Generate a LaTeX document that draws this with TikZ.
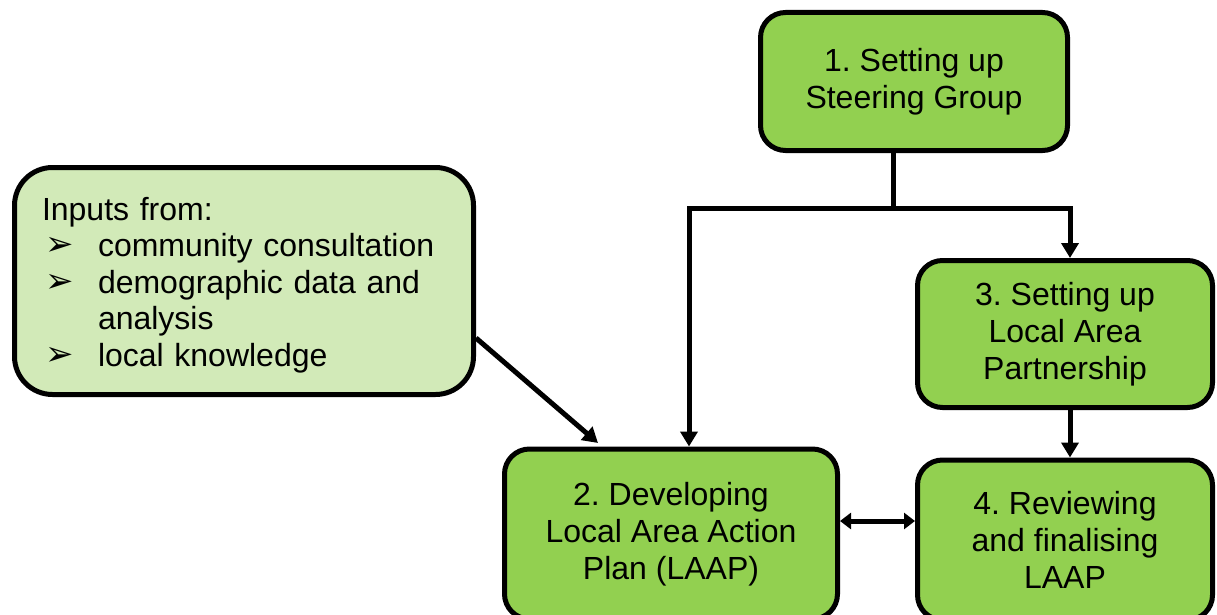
\documentclass[tikz,border=0pt]{standalone}
\usepackage{fontspec}
\setmainfont{Liberation Sans}
\newfontfamily\dingfont{DejaVu Sans}
\usetikzlibrary{arrows.meta}
\definecolor{boxgreen}{HTML}{92D050}
\definecolor{lightgreen}{HTML}{D2EAB8}
\tikzset{
  stepbox/.style={draw=black, line width=5pt, fill=boxgreen, rounded corners=25pt,
    align=center, font=\fontsize{32}{37}\selectfont, inner sep=0pt,
    execute at begin node={\rule{0pt}{30pt}}},
  inbox/.style={draw=black, line width=5pt, fill=lightgreen, rounded corners=38pt,
    align=left, font=\fontsize{32}{36.5}\selectfont, inner sep=0pt, anchor=center},
  conn/.style={line width=5pt, black},
  arr/.style={conn, -{Triangle[width=17pt,length=15pt]}},
  darr/.style={conn, {Triangle[width=16pt,length=11pt]}-{Triangle[width=16pt,length=11pt]}},
}
\newcommand{\bul}{\makebox[56pt][l]{\hspace{3pt}\raisebox{1pt}{\dingfont\fontsize{34}{34}\selectfont ➢}}}
\frenchspacing
\begin{document}
\begin{tikzpicture}[x=1pt,y=-1pt]
\clip (0,0) rectangle (1217,615);
\node[stepbox, minimum width=307pt, minimum height=138pt] (s1) at (914,81.5) {1. Setting up\\Steering Group};
\node[inbox, minimum width=459pt, minimum height=227pt, text width=404pt] (in) at (244,281)
  {\rule{0pt}{31pt}Inputs from:\\
   \bul community consultation\\
   \bul demographic data and\\
   \hspace*{56pt}analysis\\
   \bul local knowledge};
\node[stepbox, minimum width=295pt, minimum height=147pt] (s3) at (1065,334) {3. Setting up\\Local Area\\Partnership};
\node[stepbox, minimum width=333pt, minimum height=170pt] (s2) at (671,534) {2. Developing\\Local Area Action\\Plan (LAAP)};
\node[stepbox, minimum width=295pt, minimum height=160pt] (s4) at (1065,540) {4. Reviewing\\and finalising\\LAAP};
\coordinate (jm) at (893,208);
\coordinate (jl) at (689,208);
\coordinate (jr) at (1070,208);
\coordinate (dy) at (0,521);
\coordinate (ia) at (476,338);
\coordinate (ie) at (598,443);
\draw[conn] (s1.south -| jm) -- (jm);
\draw[arr] (jm) -- (jl) -- (jl |- s2.north);
\draw[arr] (jm) -- (jr) -- (jr |- s3.north);
\draw[arr] (s3.south -| jr) -- (s4.north -| jr);
\draw[darr] (s2.east |- dy) -- (s4.west |- dy);
\draw[arr] (in.east |- ia) -- (ie);
\end{tikzpicture}
\end{document}
